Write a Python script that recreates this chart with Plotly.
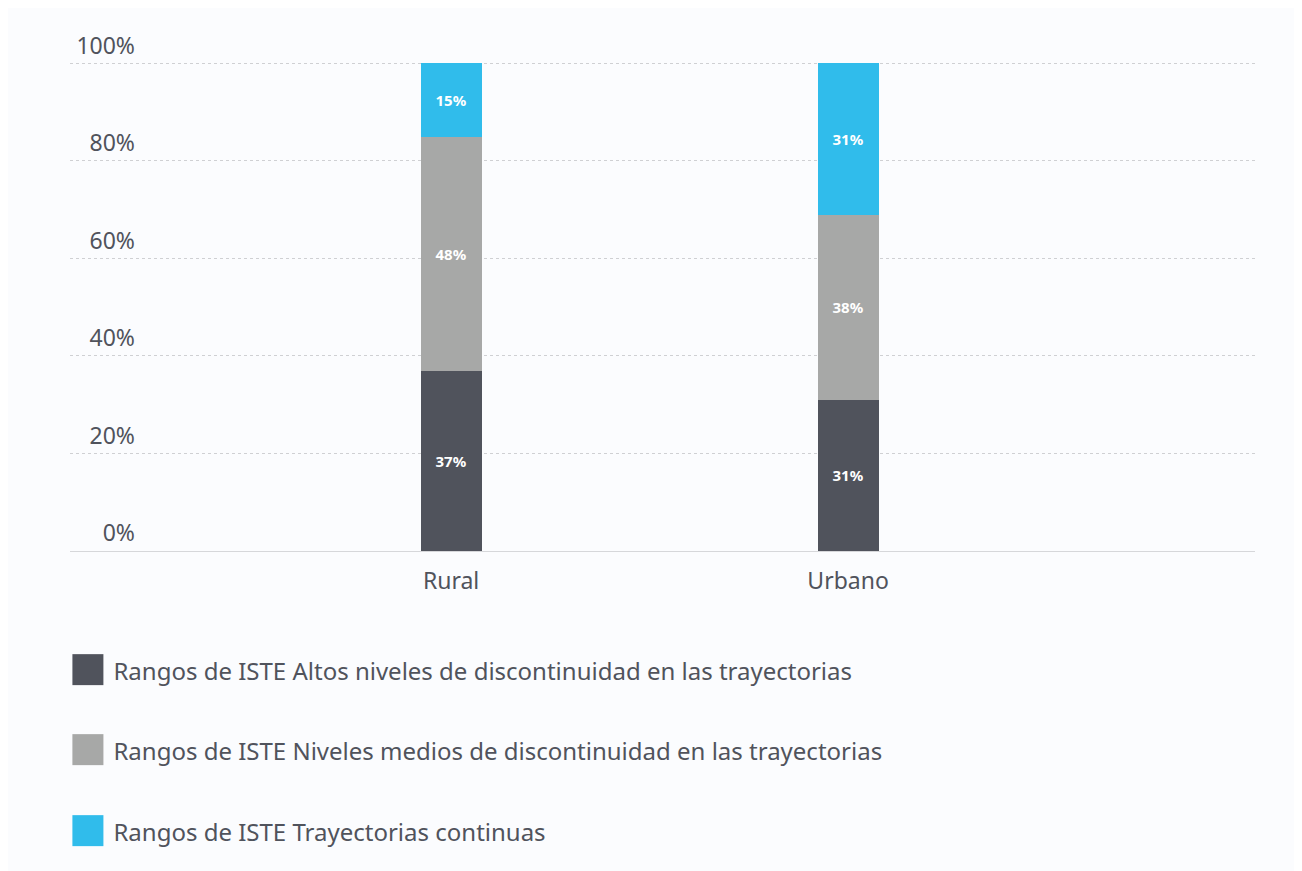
import plotly.graph_objects as go

categories = ["Rural", "Urbano"]
altos = [37, 31]
medios = [48, 38]
continuas = [15, 31]
y_ticks = [0, 20, 40, 60, 80, 100]

series = [
    ("Rangos de ISTE Altos niveles de discontinuidad en las trayectorias", altos, "#50535c"),
    ("Rangos de ISTE Niveles medios de discontinuidad en las trayectorias", medios, "#a7a8a7"),
    ("Rangos de ISTE Trayectorias continuas", continuas, "#30bceb"),
]

fig = go.Figure()
for i, (name, vals, color) in enumerate(series):
    fig.add_trace(go.Bar(
        x=[0, 1], y=vals, name=name,
        marker=dict(color=color, line=dict(width=0)),
        width=0.154,
        text=vals, texttemplate="%{text}%",
        textposition="inside", insidetextanchor="middle",
        textfont=dict(color="white", size=15, family="Noto Sans", weight="bold"),
        showlegend=False,
    ))
    # legend entry: big coloured square drawn as text, default symbol hidden
    fig.add_trace(go.Bar(
        x=[None], y=[None],
        name=f"<span style='font-size:64px;color:{color};baseline-shift:-9px'>■</span> {name}",
        marker=dict(color="rgba(0,0,0,0)", line=dict(width=0)),
        legendgroup=str(i), showlegend=True, hoverinfo="skip",
    ))

fig.update_layout(
    barmode="stack",
    width=1302, height=871,
    margin=dict(l=62, r=55, t=54, b=328),
    paper_bgcolor="#fbfcfe", plot_bgcolor="#fbfcfe",
    font=dict(family="Noto Sans", color="#50535c"),
    showlegend=True,
    legend=dict(
        x=-0.035, xanchor="left", y=-0.2, yanchor="top",
        font=dict(size=24, color="#50535c"),
        tracegroupgap=46, traceorder="grouped",
        itemwidth=30,
    ),
)
fig.update_xaxes(
    range=[-0.96, 2.025],
    tickvals=[0, 1], ticktext=categories,
    showgrid=False, zeroline=False,
    showline=True, linecolor="#d6d7da", linewidth=1,
    ticks="outside", ticklen=0, ticklabelstandoff=9,
    tickfont=dict(size=23, color="#50535c"),
)
fig.update_yaxes(
    range=[0, 100.3], tickvals=y_ticks,
    ticktext=[f"{v}%" for v in y_ticks],
    showgrid=True, gridcolor="#cfd0d3", griddash="dot", gridwidth=1,
    zeroline=False, showline=False,
    ticklabelposition="outside", ticklabelstandoff=-66, ticklabelshift=-18,
    tickfont=dict(size=23, color="#50535c"),
)

fig.write_html("out.html")
